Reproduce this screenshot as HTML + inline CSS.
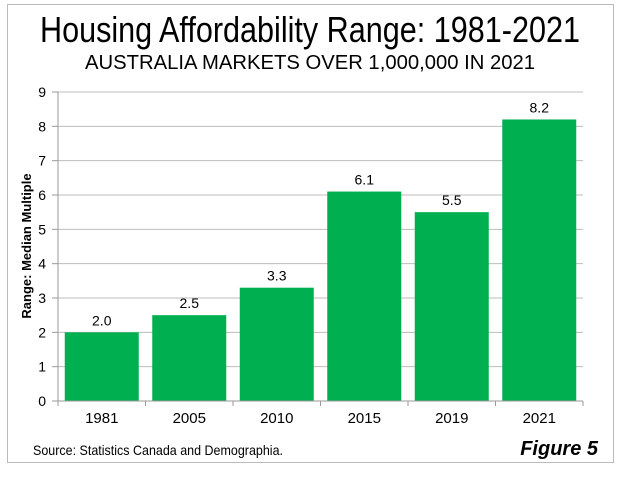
<!DOCTYPE html>
<html><head><meta charset="utf-8"><style>
body{margin:0;background:#fff;width:621px;height:473px;overflow:hidden;font-family:"Liberation Sans",Arial,sans-serif}
</style></head><body>
<svg width="621" height="473" xmlns="http://www.w3.org/2000/svg">
<rect x="7.5" y="4.5" width="606" height="458" fill="#fff" stroke="#bbb"/>
<text x="310" y="42" text-anchor="middle" font-size="36" textLength="540" lengthAdjust="spacingAndGlyphs">Housing Affordability Range: 1981-2021</text>
<text x="310" y="69" text-anchor="middle" font-size="20" textLength="450" lengthAdjust="spacingAndGlyphs">AUSTRALIA  MARKETS OVER 1,000,000 IN 2021</text>
<g id="grid"></g><g id="bars"></g><g id="axes"></g>
<text transform="translate(31,246) rotate(-90)" text-anchor="middle" font-size="13" font-weight="bold">Range:  Median Multiple</text>
<text x="33" y="455" font-size="14" textLength="250" lengthAdjust="spacingAndGlyphs">Source: Statistics Canada and Demographia.</text>
<text x="598" y="455" text-anchor="end" font-size="20" font-weight="bold" font-style="italic">Figure 5</text>
</svg>
<script>
const categories=["1981","2005","2010","2015","2019","2021"];
const values=[2.0,2.5,3.3,6.1,5.5,8.2];
const valueLabels=["2.0","2.5","3.3","6.1","5.5","8.2"];
const yTicks=[0,1,2,3,4,5,6,7,8,9];
const NS="http://www.w3.org/2000/svg";
const x0=58,x1=583,yb=401,yt=92,ymax=9;
const bw=(x1-x0)/categories.length;
const y=v=>yb-(yb-yt)*v/ymax;
const xc=i=>x0+bw*(i+0.5);
function mk(tag,attrs,parent,txt){const e=document.createElementNS(NS,tag);for(const k in attrs)e.setAttribute(k,attrs[k]);if(txt!==undefined)e.textContent=txt;document.getElementById(parent).appendChild(e);return e;}
yTicks.forEach(t=>{
 if(t>0){const g=mk('line',{x1:x0,x2:x1,y1:y(t),y2:y(t),stroke:'#bdbdbd','stroke-width':1},'grid');
 
 }
 const tk=mk('line',{x1:x0-6,x2:x0,y1:y(t),y2:y(t),stroke:'#999'},'axes');
 
 
 const l=mk('text',{x:x0-12,y:y(t)+5,'text-anchor':'end','font-size':14},'axes',String(t));
 
 
});
categories.forEach((c,i)=>{
 const b=mk('rect',{x:xc(i)-37,width:74,y:y(values[i]),height:yb-y(values[i]),fill:'#00b050'},'bars');
 
 
 const v=mk('text',{x:xc(i),y:y(values[i])-7,'text-anchor':'middle','font-size':14},'bars',valueLabels[i]);
 
 
 const l=mk('text',{x:xc(i),y:yb+22,'text-anchor':'middle','font-size':15},'axes',c);
 
 
});
for(let i=0;i<=categories.length;i++){const t=mk('line',{x1:x0+bw*i,x2:x0+bw*i,y1:yb,y2:yb+5,stroke:'#999'},'axes');
 
 }
const ya=mk('line',{x1:x0,x2:x0,y1:yt,y2:yb,stroke:'#999'},'axes');


const xa=mk('line',{x1:x0,x2:x1,y1:yb,y2:yb,stroke:'#999'},'axes');


</script>
</body></html>
